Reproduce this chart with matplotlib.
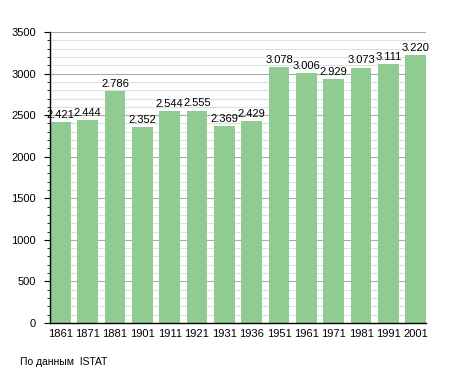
import matplotlib.pyplot as plt
from matplotlib.ticker import MultipleLocator

years = ['1861', '1871', '1881', '1901', '1911', '1921', '1931',
         '1936', '1951', '1961', '1971', '1981', '1991', '2001']
population = [2421, 2444, 2786, 2352, 2544, 2555, 2369,
              2429, 3078, 3006, 2929, 3073, 3111, 3220]
labels = ['2.421', '2.444', '2.786', '2.352', '2.544', '2.555', '2.369',
          '2.429', '3.078', '3.006', '2.929', '3.073', '3.111', '3.220']

plt.rcParams['font.family'] = ['Liberation Sans', 'DejaVu Sans']

fig = plt.figure(figsize=(4.55, 3.73), dpi=100)
ax = fig.add_axes([50 / 455, 50 / 373, 376 / 455, 291 / 373])

x = range(len(years))
w = 0.75
bars = ax.bar(x, population, width=w, color='#90cb92', zorder=2)

for bar, lab in zip(bars, labels):
    ax.text(bar.get_x() + bar.get_width() / 2, bar.get_height() + 25, lab,
            ha='center', va='bottom', fontsize=8, zorder=3)

ax.set_xlim(-w / 2, len(years) - 1 + w / 2)
ax.set_ylim(0, 3500)
ax.set_xticks(list(x))
ax.set_xticklabels(years)
ax.yaxis.set_major_locator(MultipleLocator(500))
ax.yaxis.set_minor_locator(MultipleLocator(100))
ax.grid(axis='y', which='major', color='#aaaaaa', linewidth=0.8, zorder=0)
ax.grid(axis='y', which='minor', color='#e0e0e0', linewidth=0.8, zorder=0)
ax.set_axisbelow(True)

ax.spines['top'].set_visible(False)
ax.spines['right'].set_visible(False)
ax.spines['left'].set_linewidth(1.0)
ax.spines['bottom'].set_linewidth(1.0)
ax.tick_params(axis='x', length=0, labelsize=8, pad=4)
ax.tick_params(axis='y', which='major', length=4, labelsize=8, pad=6)
ax.tick_params(axis='y', which='minor', length=2)

fig.text(20 / 455, 1 - 362 / 373, 'По данным  ISTAT', fontsize=7.5, va='center')

fig.savefig('out.png', dpi=100)
